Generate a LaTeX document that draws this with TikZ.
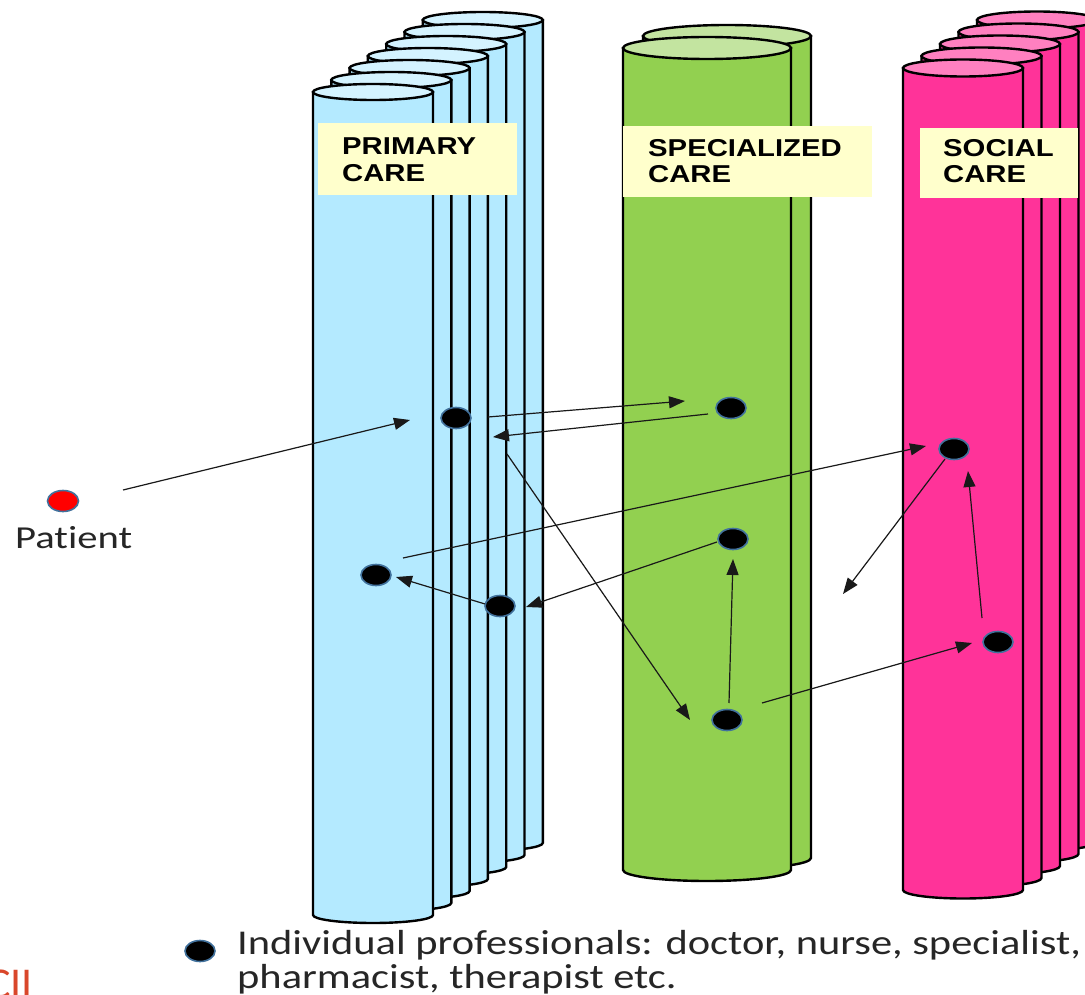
\documentclass[tikz,border=0pt]{standalone}
\usepackage{fontspec}
\usepackage{graphicx}
\setmainfont{Carlito}[Ligatures=NoCommon]
\newfontfamily\labelfont{Liberation Sans}
\usetikzlibrary{arrows.meta}
\definecolor{pcbody}{HTML}{B4EAFF}
\definecolor{pctop}{HTML}{D4F3FF}
\definecolor{scbody}{HTML}{92D050}
\definecolor{sctop}{HTML}{C3E4A0}
\definecolor{socbody}{HTML}{FF3399}
\definecolor{soctop}{HTML}{FF80C0}
\definecolor{boxfill}{HTML}{FFFFCC}
\definecolor{ringblue}{HTML}{41719C}
\definecolor{logored}{HTML}{D9472B}
\newcommand\hs[1]{\scalebox{1.2}[1]{#1}}
\newcommand\hsl[1]{\scalebox{1.22}[1]{#1}}
\newcommand\drawcyl[6]{%
  \pgfmathsetmacro\hw{#4/2}%
  \pgfmathsetmacro\xr{#1+#4}%
  \pgfmathsetmacro\xc{#1+#4/2}%
  \filldraw[cylline,fill=#6body] (#1,#2) -- (#1,#3) arc[start angle=180,end angle=360,x radius=\hw pt,y radius=#5pt] -- (\xr,#2) -- cycle;
  \filldraw[cylline,fill=#6top] (\xc,#2) ellipse[x radius=\hw pt,y radius=#5pt];
}
\tikzset{
  cylline/.style={draw=black,line width=2.4pt},
  labelbox/.style={draw=none,fill=boxfill,inner sep=0pt,anchor=north west},
  labeltext/.style={font=\labelfont\bfseries\fontsize{24.4}{27}\selectfont,inner sep=0pt,anchor=base west},
  prof/.style={ellipse,fill=black,draw=ringblue,line width=1.6pt,minimum width=30pt,minimum height=21pt,inner sep=0pt},
  patientdot/.style={ellipse,fill=red,draw=ringblue,line width=1.6pt,minimum width=31pt,minimum height=21pt,inner sep=0pt},
  link/.style={draw=black!90,line width=1.2pt,-{Triangle[length=16pt,width=12pt]}},
  legendtext/.style={font=\fontsize{34.8}{37}\selectfont,text=black!85,inner sep=0pt,anchor=base west},
}
\usetikzlibrary{shapes.geometric}
\begin{document}
\begin{tikzpicture}[x=1pt,y=-1pt]
\useasboundingbox (0,0) rectangle (1085,995);
\clip (0,0) rectangle (1085,995);
\fill[white] (0,0) rectangle (1085,995);
% primary care cylinders
\foreach \k in {6,5,...,0}{
  \pgfmathsetmacro\xl{313+\k*18.3}\pgfmathsetmacro\yt{92-\k*12}\pgfmathsetmacro\yb{915-\k*12}
  \drawcyl{\xl}{\yt}{\yb}{120}{8}{pc}
}
% specialized care cylinders
\foreach \k in {1,0}{
  \pgfmathsetmacro\xl{623+\k*20}\pgfmathsetmacro\yt{48-\k*12}\pgfmathsetmacro\yb{870-\k*12}
  \drawcyl{\xl}{\yt}{\yb}{168}{11}{sc}
}
% social care cylinders
\foreach \k in {4,3,...,0}{
  \pgfmathsetmacro\xl{903+\k*18.5}\pgfmathsetmacro\yt{68-\k*12}\pgfmathsetmacro\yb{890-\k*12}
  \drawcyl{\xl}{\yt}{\yb}{120}{8.5}{soc}
}
% labels
\node[labelbox,minimum width=199pt,minimum height=72pt] (pcbox) at (318,123) {};
\node[labeltext] (pct1) at (342,155) {\hs{PRIMARY}};
\node[labeltext] (pct2) at (342,182) {\hs{CARE}};
\node[labelbox,minimum width=249pt,minimum height=71pt] (scbox) at (623,126) {};
\node[labeltext] (sct1) at (648,157) {\hs{SPECIALIZED}};
\node[labeltext] (sct2) at (648,183) {\hs{CARE}};
\node[labelbox,minimum width=158pt,minimum height=70pt] (socbox) at (920,128) {};
\node[labeltext] (soct1) at (943,157) {\hs{SOCIAL}};
\node[labeltext] (soct2) at (943,183) {\hs{CARE}};
% professionals
\node[prof] (d1) at (456,418) {};
\node[prof] (d2) at (731,408) {};
\node[prof] (d3) at (954,449) {};
\node[prof] (d4) at (733,539) {};
\node[prof] (d5) at (376,575) {};
\node[prof] (d6) at (500,606) {};
\node[prof] (d7) at (727,720) {};
\node[prof] (d8) at (998,642) {};
\node[patientdot] (pat) at (63,501) {};
\node[font=\fontsize{32}{36}\selectfont,text=black!85,inner sep=0pt,anchor=base west] (patlbl) at (15,548) {\scalebox{1.27}[1]{Patient}};
% connector end points
\coordinate (a1s) at (123,490); \coordinate (a1e) at (410,420);
\coordinate (a2s) at (488,417); \coordinate (a2e) at (685,401);
\coordinate (a3s) at (708,414); \coordinate (a3e) at (493,437);
\coordinate (a4s) at (507,454); \coordinate (a4e) at (690,720);
\coordinate (a5s) at (403,558); \coordinate (a5e) at (926,446);
\coordinate (a6s) at (717,542); \coordinate (a6e) at (526,607);
\coordinate (a7s) at (485,604); \coordinate (a7e) at (396,577);
\coordinate (a8s) at (729,703); \coordinate (a8e) at (733,559);
\coordinate (a9s) at (762,703); \coordinate (a9e) at (972,643);
\coordinate (a10s) at (945,459); \coordinate (a10e) at (843,594);
\coordinate (a11s) at (982,618); \coordinate (a11e) at (968,471);
\foreach \i in {1,...,11}{ \draw[link] (a\i s) -- (a\i e); }
% legend
\node[prof] (legdot) at (200,951) {};
\node[legendtext] (leg1) at (237,954) {\hsl{Individual professionals: doctor, nurse, specialist,}};
\node[legendtext] (leg2) at (237,988) {\hsl{pharmacist, therapist etc.}};
\node[font=\fontsize{44}{46}\selectfont,text=logored,inner sep=0pt,anchor=base east] (logo) at (33,998) {CII};
\end{tikzpicture}
\end{document}
